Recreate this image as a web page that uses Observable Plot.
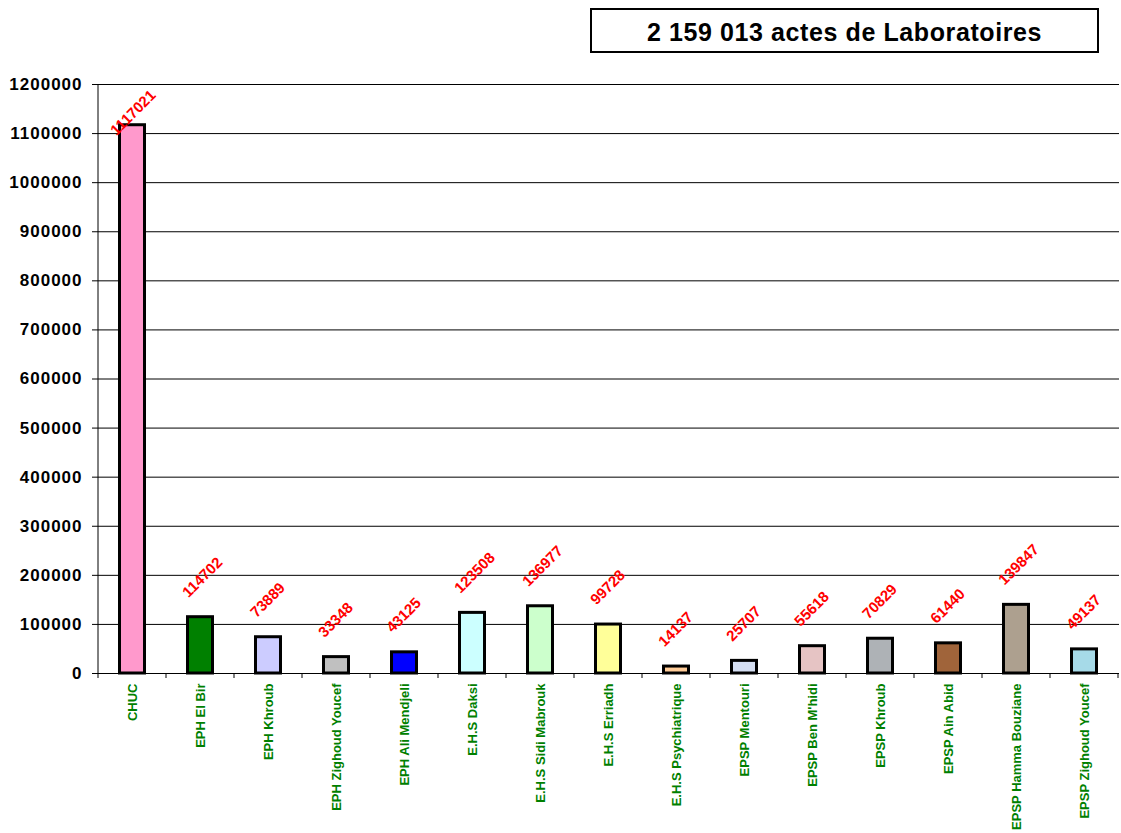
<!DOCTYPE html>
<html>
<head>
<meta charset="utf-8">
<script src="https://cdn.jsdelivr.net/npm/d3@7"></script>
<script src="https://cdn.jsdelivr.net/npm/@observablehq/plot@0.6"></script>
<style>
  body { margin: 0; background: #fff; font-family: "Liberation Sans", Arial, sans-serif; }
  #wrap { position: relative; width: 1121px; height: 833px; }
  #title {
    position: absolute; left: 590px; top: 8px; width: 505px; height: 41px;
    border: 2px solid #000; background: #fff;
    font: bold 25px "Liberation Sans", Arial, sans-serif; letter-spacing: 0.6px;
    display: flex; align-items: center; justify-content: center; z-index: 2;
    padding-top: 3px; box-sizing: content-box; height: 38px;
  }
  #chart { position: absolute; left: 0; top: 0; }
  .yax text { letter-spacing: 1px; }
</style>
</head>
<body>
<div id="wrap">
  <div id="title">2 159 013 actes de Laboratoires</div>
  <div id="chart"></div>
</div>
<script>
const categories = [
  "CHUC", "EPH El Bir", "EPH Khroub", "EPH Zighoud Youcef", "EPH Ali Mendjeli",
  "E.H.S Daksi", "E.H.S Sidi Mabrouk", "E.H.S Erriadh", "E.H.S Psychiatrique",
  "EPSP Mentouri", "EPSP Ben M'hidi", "EPSP Khroub", "EPSP Ain Abid",
  "EPSP Hamma Bouziane", "EPSP Zighoud Youcef"
];
const values = [1117021, 114702, 73889, 33348, 43125, 123508, 136977, 99728, 14137, 25707, 55618, 70829, 61440, 139847, 49137];
const colors = ["#FF99CC", "#008000", "#CCCCFF", "#C0C0C0", "#0000FF", "#CCFFFF", "#CCFFCC", "#FFFF99", "#FFCC99", "#D4DEF2", "#E6C4C4", "#AEB2B6", "#A0643A", "#ADA08F", "#A6DAE8"];
const yTicks = [0, 100000, 200000, 300000, 400000, 500000, 600000, 700000, 800000, 900000, 1000000, 1100000, 1200000];

const data = categories.map((name, i) => ({name, value: values[i], color: colors[i]}));
const maxValue = d3.max(values);

const chart = Plot.plot({
  width: 1121,
  height: 833,
  marginTop: 84,
  marginBottom: 160,
  marginLeft: 97,
  marginRight: 2,
  style: {fontFamily: "'Liberation Sans', Arial, sans-serif", background: "transparent", overflow: "visible"},
  x: {domain: categories, padding: 0},
  y: {domain: [0, 1200000]},
  marks: [
    Plot.gridY(yTicks, {stroke: "#000", strokeOpacity: 1, strokeWidth: 1}),
    Plot.axisY(yTicks, {className: "yax", tickSize: 5, tickPadding: 10, fontSize: 17, fontWeight: "bold", fill: "#000", tickFormat: d => String(d), label: null}),
    Plot.axisX({tickSize: 0, tickPadding: 10, tickRotate: -90, fontSize: 13, fontWeight: "bold", fill: "#008000", label: null}),
    Plot.barY(data, {x: "name", y: "value", fill: "color", stroke: "#000", strokeWidth: 3, insetLeft: 21.5, insetRight: 21.5}),
    Plot.ruleY([0], {stroke: "#000", strokeWidth: 1}),
    Plot.text(data.filter(d => d.value < maxValue), {x: "name", y: "value", text: d => String(d.value), rotate: -45, textAnchor: "start", lineAnchor: "bottom", dx: -12, dy: -19, fill: "#FF0000", fontSize: 15, fontWeight: "bold"}),
    Plot.text(data.filter(d => d.value === maxValue), {x: "name", y: "value", text: d => String(d.value), rotate: -45, textAnchor: "start", lineAnchor: "bottom", dx: -16, dy: 11, fill: "#FF0000", fontSize: 15, fontWeight: "bold"})
  ]
});

document.getElementById("chart").appendChild(chart);

// axis lines and category separator ticks drawn from the chart's own scales
const xs = chart.scale("x"), ys = chart.scale("y");
const svg = d3.select(chart);
const y0 = ys.apply(0), yTop = ys.apply(1200000);
const left = xs.apply(categories[0]);
svg.append("line").attr("x1", left).attr("x2", left).attr("y1", yTop).attr("y2", y0).attr("stroke", "#000").attr("stroke-width", 1);
const bw = xs.bandwidth;
categories.forEach(c => {
  const xr = xs.apply(c) + bw;
  svg.append("line").attr("x1", xr).attr("x2", xr).attr("y1", y0).attr("y2", y0 + 5).attr("stroke", "#000").attr("stroke-width", 1);
});
svg.append("line").attr("x1", left).attr("x2", left).attr("y1", y0).attr("y2", y0 + 5).attr("stroke", "#000").attr("stroke-width", 1);
</script>
</body>
</html>
